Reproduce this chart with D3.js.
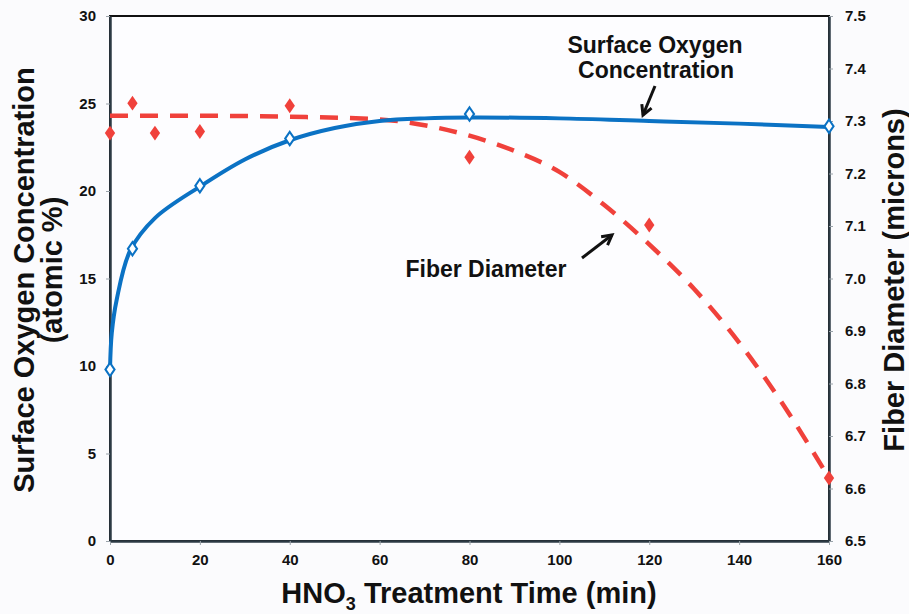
<!DOCTYPE html>
<html>
<head>
<meta charset="utf-8">
<script src="https://cdn.jsdelivr.net/npm/d3@7"></script>
<style>
  body { margin: 0; background: #fbfbfd; }
  text { font-family: Arial, "Liberation Sans", sans-serif; font-weight: bold; fill: #111; }
</style>
</head>
<body>
<div id="chart"></div>
<script>
"use strict";

// == DATA ==
var oxygenTime = [0, 5, 20, 40, 80, 160];
var oxygenValue = [9.8, 16.7, 20.3, 23.0, 24.4, 23.7];

var fiberTime = [0, 5, 10, 20, 40, 80, 120, 160];
var fiberValue = [7.277, 7.334, 7.277, 7.28, 7.329, 7.231, 7.102, 6.62];

// trend lines
var oxygenFitTime = [0, 0.4, 1.5, 4.5, 10, 20, 30, 40, 50, 60, 70, 80, 100, 120, 140, 160];
var oxygenFitValue = [9.8, 11.9, 13.8, 16.6, 18.45, 20.25, 21.8, 22.9, 23.6, 24.0, 24.15, 24.2, 24.15, 24.0, 23.85, 23.66];

var fiberFitTime = [0, 20, 40, 60, 70, 80, 90, 100, 110, 120, 130, 140, 150, 160];
var fiberFitValue = [7.31, 7.31, 7.308, 7.303, 7.292, 7.272, 7.243, 7.203, 7.14, 7.065, 6.98, 6.878, 6.757, 6.62];

var xTicks = [0, 20, 40, 60, 80, 100, 120, 140, 160];
var leftTicks = [0, 5, 10, 15, 20, 25, 30];
var rightTicks = [6.5, 6.6, 6.7, 6.8, 6.9, 7.0, 7.1, 7.2, 7.3, 7.4, 7.5];

// == BOILERPLATE ==
var W = 909, H = 614;
var margin = { top: 16, right: 80, bottom: 73, left: 110 },
    width = W - margin.left - margin.right,
    height = H - margin.top - margin.bottom;

var svg = d3.select("#chart")
  .append("svg")
  .attr("width", W)
  .attr("height", H);

var g = svg.append("g")
  .attr("transform", "translate(" + margin.left + "," + margin.top + ")");

var x = d3.scaleLinear().domain([0, 160]).range([0, width]);
var yL = d3.scaleLinear().domain([0, 30]).range([height, 0]);
var yR = d3.scaleLinear().domain([6.5, 7.5]).range([height, 0]);

var blue = "#0b72c4", red = "#f0413b", axisCol = "#2c3a44";

// plot frame
g.append("rect")
  .attr("width", width).attr("height", height)
  .attr("fill", "#fdfdff")
  .attr("stroke", "#111").attr("stroke-width", 2);

// == AXES ==
function styleAxis(sel) {
  sel.select(".domain").attr("stroke", axisCol).attr("stroke-width", 2.5);
  sel.selectAll(".tick line").attr("stroke", "#9aa3aa").attr("stroke-width", 1);
  sel.selectAll(".tick text").style("font-size", "15px").attr("fill", "#1a1a1a");
}

g.append("g")
  .attr("transform", "translate(0," + height + ")")
  .call(d3.axisBottom(x).tickValues(xTicks).tickSize(4).tickPadding(9).tickSizeOuter(0))
  .call(styleAxis);

g.append("g")
  .call(d3.axisLeft(yL).tickValues(leftTicks).tickSize(4).tickPadding(10).tickSizeOuter(0))
  .call(styleAxis);

g.append("g")
  .attr("transform", "translate(" + width + ",0)")
  .call(d3.axisRight(yR).tickValues(rightTicks).tickFormat(d3.format(".1f")).tickSize(4).tickPadding(12).tickSizeOuter(0))
  .call(styleAxis);

// == LINES ==
var oxyFit = oxygenFitTime.map(function (t, i) { return [t, oxygenFitValue[i]]; });
var fibFit = fiberFitTime.map(function (t, i) { return [t, fiberFitValue[i]]; });

g.append("path")
  .datum(fibFit)
  .attr("fill", "none")
  .attr("stroke", red)
  .attr("stroke-width", 4.5)
  .attr("stroke-dasharray", "18,12")
  .attr("d", d3.line()
    .x(function (d) { return x(d[0]); })
    .y(function (d) { return yR(d[1]); })
    .curve(d3.curveMonotoneX));

g.append("path")
  .datum(oxyFit)
  .attr("fill", "none")
  .attr("stroke", blue)
  .attr("stroke-width", 4)
  .attr("d", d3.line()
    .x(function (d) { return x(d[0]); })
    .y(function (d) { return yL(d[1]); })
    .curve(d3.curveCatmullRom.alpha(0.5)));

// == MARKERS ==
var diamond = d3.symbol().type(d3.symbolDiamond);

g.selectAll(".fib")
  .data(fiberTime)
  .enter()
  .append("path")
  .attr("class", "fib")
  .attr("d", diamond.size(64)())
  .attr("transform", function (d, i) {
    return "translate(" + x(d) + "," + yR(fiberValue[i]) + ") scale(1.2,1)";
  })
  .attr("fill", red);

g.selectAll(".oxy")
  .data(oxygenTime)
  .enter()
  .append("path")
  .attr("class", "oxy")
  .attr("d", diamond.size(50)())
  .attr("transform", function (d, i) {
    return "translate(" + x(d) + "," + yL(oxygenValue[i]) + ") scale(1.2,1)";
  })
  .attr("fill", "#fff")
  .attr("stroke", blue)
  .attr("stroke-width", 1.8);

// == ANNOTATIONS ==
svg.append("text").attr("x", 655).attr("y", 53).attr("text-anchor", "middle")
  .style("font-size", "23px").text("Surface Oxygen");
svg.append("text").attr("x", 656).attr("y", 78).attr("text-anchor", "middle")
  .style("font-size", "23px").text("Concentration");
svg.append("text").attr("x", 486).attr("y", 277).attr("text-anchor", "middle")
  .style("font-size", "23px").text("Fiber Diameter");

var arrow = function (x1, y1, x2, y2) {
  svg.append("line")
    .attr("x1", x1).attr("y1", y1).attr("x2", x2).attr("y2", y2)
    .attr("stroke", "#111").attr("stroke-width", 3);
  var a = Math.atan2(y2 - y1, x2 - x1), L = 11;
  var p1 = [x2 - L * Math.cos(a - 0.5), y2 - L * Math.sin(a - 0.5)];
  var p2 = [x2 - L * Math.cos(a + 0.5), y2 - L * Math.sin(a + 0.5)];
  svg.append("path")
    .attr("d", "M" + p1 + "L" + [x2, y2] + "L" + p2)
    .attr("fill", "none").attr("stroke", "#111").attr("stroke-width", 3)
    .attr("stroke-linejoin", "miter");
};
arrow(655, 86, 643, 115);
arrow(582, 258, 612, 235);

// axis titles
svg.append("text")
  .attr("x", 469).attr("y", 603)
  .attr("text-anchor", "middle")
  .style("font-size", "29px")
  .html('HNO<tspan dy="7" font-size="18px">3</tspan><tspan dy="-7"> Treatment Time (min)</tspan>');

svg.append("text")
  .attr("transform", "translate(34,280) rotate(-90)")
  .attr("text-anchor", "middle")
  .style("font-size", "29px")
  .text("Surface Oxygen Concentration");
svg.append("text")
  .attr("transform", "translate(62,270) rotate(-90)")
  .attr("text-anchor", "middle")
  .style("font-size", "29px")
  .text("(atomic %)");

svg.append("text")
  .attr("transform", "translate(904,280) rotate(-90)")
  .attr("text-anchor", "middle")
  .style("font-size", "29px")
  .text("Fiber Diameter (microns)");
</script>
</body>
</html>
